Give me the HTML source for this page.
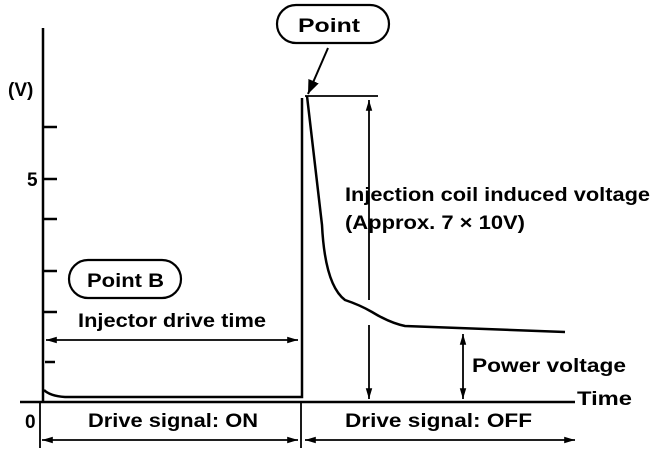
<!DOCTYPE html>
<html><head><meta charset="utf-8"><style>html,body{margin:0;padding:0;background:#fff}svg{display:block}</style></head><body>
<svg width="672" height="456" viewBox="0 0 672 456" xmlns="http://www.w3.org/2000/svg" font-family="Liberation Sans, sans-serif" font-weight="bold" font-size="19" fill="#000">
<defs>
<marker id="a" viewBox="0 0 10 10" refX="10" refY="5" markerWidth="8" markerHeight="6" orient="auto-start-reverse"><path d="M0,2 L10,5 L0,8 z" fill="#000"/></marker>
<marker id="b" viewBox="0 0 10 10" refX="10" refY="5" markerWidth="7" markerHeight="7" orient="auto"><path d="M0,1 L10,5 L0,9 z" fill="#000"/></marker>
</defs>
<g stroke="#000" stroke-width="2.5" fill="none">
<line x1="43" y1="28" x2="43" y2="403"/>
<line x1="20" y1="402" x2="575" y2="402"/>
<line x1="43" y1="127" x2="57" y2="127"/>
<line x1="43" y1="179" x2="57" y2="179"/>
<line x1="43" y1="219" x2="57" y2="219"/>
<line x1="43" y1="271" x2="57" y2="271"/>
<line x1="43" y1="312" x2="57" y2="312"/>
<line x1="45" y1="362" x2="55" y2="362"/>
<path d="M44,390 Q50,396 65,397 L302,397 L302,98"/>
<path d="M307,96 L322,225 Q325,285 345,300 Q360,305 372,312 Q390,323 405,326 L565,332"/>
<line x1="305" y1="96" x2="378" y2="96" stroke-width="1.8"/>
</g>
<g stroke="#000" stroke-width="1.8" fill="none">
<line x1="369" y1="300" x2="369" y2="100" marker-end="url(#a)"/>
<line x1="369" y1="325" x2="369" y2="399" marker-end="url(#a)"/>
<line x1="463" y1="365" x2="463" y2="334" marker-end="url(#a)"/>
<line x1="463" y1="365" x2="463" y2="399" marker-end="url(#a)"/>
<line x1="46" y1="340" x2="298" y2="340" marker-start="url(#a)" marker-end="url(#a)"/>
<line x1="42" y1="440" x2="298" y2="440" marker-start="url(#a)" marker-end="url(#a)"/>
<line x1="305" y1="440" x2="575" y2="440" marker-start="url(#a)" marker-end="url(#a)"/>
<line x1="40" y1="402" x2="40" y2="448"/>
<line x1="301" y1="402" x2="301" y2="448"/>
<line x1="328" y1="48" x2="308" y2="94" stroke-width="2" marker-end="url(#b)"/>
<rect x="277" y="5" width="112" height="38" rx="19" stroke-width="2.2"/>
<rect x="69" y="260" width="112" height="38" rx="19" stroke-width="2.2"/>
</g>
<text x="298" y="32" textLength="62" lengthAdjust="spacingAndGlyphs">Point</text>
<text x="87" y="287" textLength="77" lengthAdjust="spacingAndGlyphs">Point B</text>
<text x="8" y="96">(V)</text>
<text x="27" y="186">5</text>
<text x="25" y="428">0</text>
<text x="78" y="327" textLength="188" lengthAdjust="spacingAndGlyphs">Injector drive time</text>
<text x="345" y="201" textLength="305" lengthAdjust="spacingAndGlyphs">Injection coil induced voltage</text>
<text x="345" y="229" textLength="180" lengthAdjust="spacingAndGlyphs">(Approx. 7 × 10V)</text>
<text x="472" y="372" textLength="154" lengthAdjust="spacingAndGlyphs">Power voltage</text>
<text x="577" y="405" textLength="55" lengthAdjust="spacingAndGlyphs">Time</text>
<text x="88" y="427" textLength="170" lengthAdjust="spacingAndGlyphs">Drive signal: ON</text>
<text x="345" y="427" textLength="187" lengthAdjust="spacingAndGlyphs">Drive signal: OFF</text>
</svg>
</body></html>
